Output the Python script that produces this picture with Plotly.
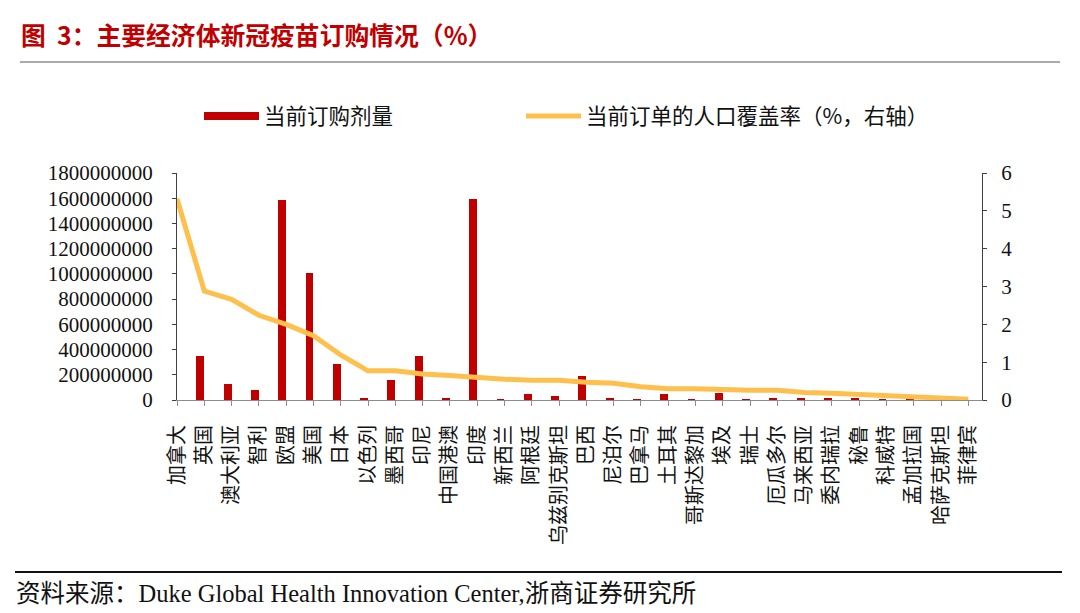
import plotly.graph_objects as go

countries = ["加拿大", "英国", "澳大利亚", "智利", "欧盟", "美国", "日本", "以色列", "墨西哥", "印尼",
             "中国港澳", "印度", "新西兰", "阿根廷", "乌兹别克斯坦", "巴西", "尼泊尔", "巴拿马", "土耳其",
             "哥斯达黎加", "埃及", "瑞士", "厄瓜多尔", "马来西亚", "委内瑞拉", "秘鲁", "科威特", "孟加拉国",
             "哈萨克斯坦", "菲律宾"]
doses = [None, 351e6, 129e6, 82e6, 1583e6, 1008e6, 287e6, 10e6, 156e6, 348e6,
         8e6, 1597e6, 3e6, 45e6, 32e6, 193e6, 18e6, 3e6, 48e6,
         3e6, 53e6, 3e6, 8e6, 13e6, 8e6, 10e6, 1e6, 1e6,
         1e6, 1e6]
coverage = [5.32, 2.88, 2.66, 2.24, 2.00, 1.70, 1.19, 0.77, 0.77, 0.69,
            0.65, 0.59, 0.55, 0.52, 0.52, 0.47, 0.44, 0.35, 0.30,
            0.30, 0.27, 0.26, 0.26, 0.20, 0.18, 0.15, 0.11, 0.10,
            0.07, 0.02]
left_ticks = [i * 200000000 for i in range(10)]
right_ticks = [0, 1, 2, 3, 4, 5, 6]

title_text = "图\u00a0\u00a03：主要经济体新冠疫苗订购情况（%）"
bar_name = "当前订购剂量"
line_name = "当前订单的人口覆盖率（%，右轴）"
source_text = "资料来源：Duke Global Health Innovation Center,浙商证券研究所"

RED = "#C00000"
GOLD = "#FFBF4D"
SERIF = "Liberation Serif, Noto Sans CJK SC"
CJK = "Noto Sans CJK SC, Liberation Serif"

FW, FH = 1080, 613
ML, MR, MT, MB = 177, 98, 173, 213
PW, PH = FW - ML - MR, FH - MT - MB


def px(xp):
    return (xp - ML) / PW


def py(yp):
    return (FH - MB - yp) / PH


xs = list(range(len(countries)))

fig = go.Figure()
fig.add_trace(go.Bar(
    x=xs, y=doses, name=bar_name, marker=dict(color=RED, line=dict(width=0)),
    width=0.29, offset=-0.29, showlegend=False, yaxis="y",
))
fig.add_trace(go.Scatter(
    x=[None], y=[None], mode="lines", name=bar_name,
    line=dict(color=RED, width=8), yaxis="y", legend="legend",
))
fig.add_trace(go.Scatter(
    x=xs, y=coverage, mode="lines", name=line_name,
    line=dict(color=GOLD, width=5), yaxis="y2", legend="legend2",
))

legend_common = dict(orientation="h", xref="container", yref="container",
                     y=1 - 116 / FH, xanchor="left", yanchor="middle",
                     font=dict(family=CJK, size=21.5, color="#111"),
                     itemwidth=55, bgcolor="rgba(0,0,0,0)")

fig.update_layout(
    width=FW, height=FH,
    margin=dict(l=ML, r=MR, t=MT, b=MB, pad=0),
    paper_bgcolor="white", plot_bgcolor="white",
    bargap=0,
    title=dict(text="<b>" + title_text + "</b>", x=21 / FW, xref="container", xanchor="left",
               y=1 - 36 / FH, yref="container", yanchor="middle",
               font=dict(family=CJK, size=24.8, color=RED)),
    xaxis=dict(range=[0, 29.5], tickmode="array", tickvals=xs, ticktext=countries,
               tickangle=-90, showgrid=False, zeroline=False,
               showline=True, linecolor="#8C8C8C", linewidth=1,
               ticks="outside", ticklen=5, tickcolor="#8C8C8C",
               tickfont=dict(family=CJK, size=20, color="#111"), ticklabelstandoff=11),
    yaxis=dict(range=[0, 1800000000], tickmode="array", tickvals=left_ticks,
               ticktext=[str(v) for v in left_ticks],
               showgrid=False, zeroline=False, showline=True, linecolor="#404040",
               ticks="outside", ticklen=4, tickcolor="#404040",
               tickfont=dict(family=SERIF, size=21, color="#111"), ticklabelstandoff=15),
    yaxis2=dict(range=[0, 6], tickmode="array", tickvals=right_ticks, overlaying="y", side="right",
                showgrid=False, zeroline=False, showline=True, linecolor="#404040",
                ticks="outside", ticklen=4, tickcolor="#404040",
                tickfont=dict(family=SERIF, size=21, color="#111"), ticklabelstandoff=10),
    legend=dict(x=199 / FW, **legend_common),
    legend2=dict(x=521 / FW, **legend_common),
    shapes=[
        dict(type="line", xref="paper", yref="paper", x0=px(20), x1=px(1060), y0=py(62), y1=py(62),
             line=dict(color="#555", width=1)),
        dict(type="line", xref="paper", yref="paper", x0=px(15), x1=px(1062), y0=py(572), y1=py(572),
             line=dict(color="#111", width=2)),
    ],
    annotations=[
        dict(text=source_text, xref="paper", yref="paper", x=px(14), y=py(593),
             xanchor="left", yanchor="middle", showarrow=False,
             font=dict(family=SERIF, size=24.5, color="#111")),
    ],
)

fig.write_html("out.html", config={"displayModeBar": False},
               post_script="document.body.style.margin='0px';")
